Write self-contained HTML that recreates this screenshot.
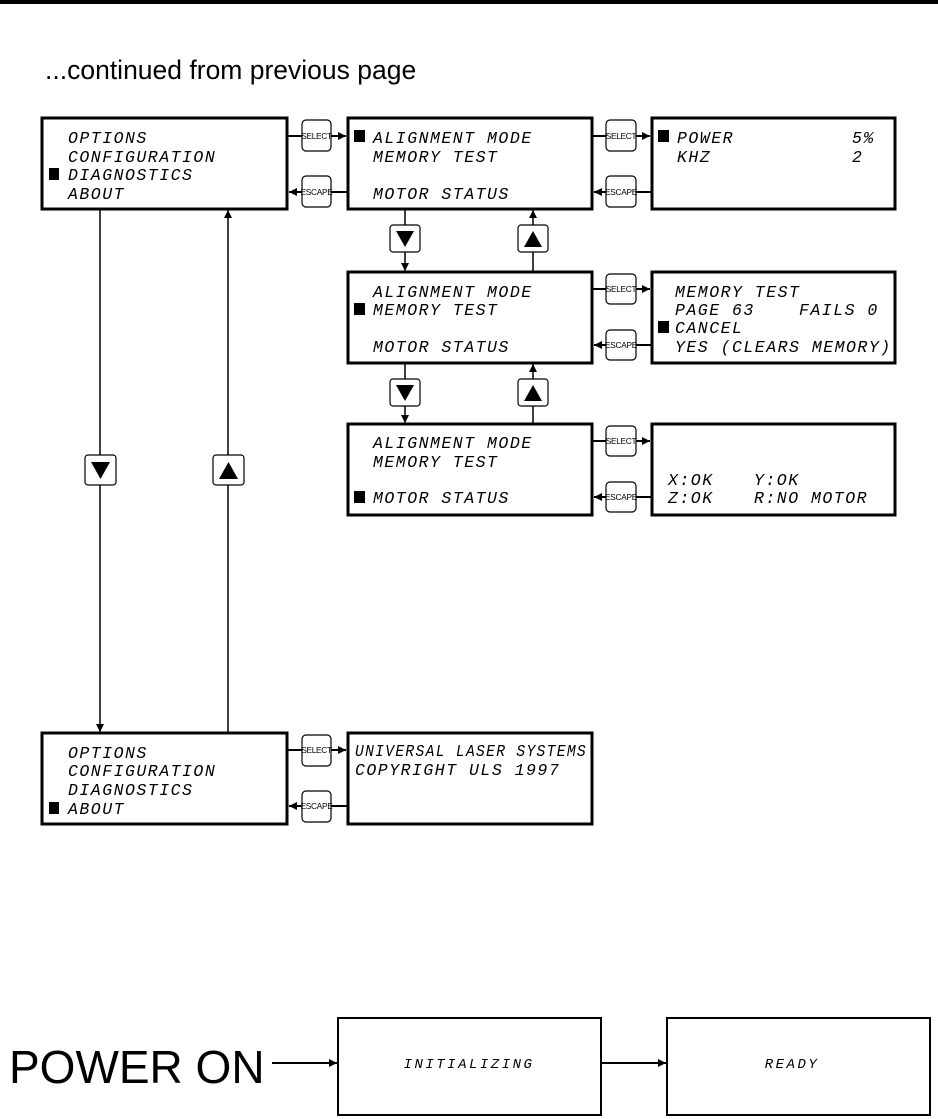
<!DOCTYPE html>
<html><head><meta charset="utf-8"><style>
html,body{margin:0;padding:0;background:#fff;}
svg{display:block;}
.l{font-family:"Liberation Mono",monospace;font-style:italic;font-size:16.5px;letter-spacing:1.5px;fill:#000;}
.b{font-family:"Liberation Sans",sans-serif;font-size:8.3px;fill:#000;letter-spacing:-0.3px;}
</style></head><body>
<svg width="938" height="1119" viewBox="0 0 938 1119" xmlns="http://www.w3.org/2000/svg">
<defs>
<marker id="a" markerWidth="8" markerHeight="8" refX="8" refY="4" orient="auto" markerUnits="userSpaceOnUse"><path d="M0,0 L8,4 L0,8 Z" fill="#000"/></marker>
</defs>
<rect x="0" y="0" width="938" height="4" fill="#000"/>
<text x="45" y="79" font-family="Liberation Sans,sans-serif" font-size="26.5" fill="#000">...continued from previous page</text>

<g fill="none" stroke="#000" stroke-width="3">
<rect x="42" y="118" width="245" height="91"/>
<rect x="348" y="118" width="244" height="91"/>
<rect x="652" y="118" width="243" height="91"/>
<rect x="348" y="272" width="244" height="91"/>
<rect x="652" y="272" width="243" height="91"/>
<rect x="348" y="424" width="244" height="91"/>
<rect x="652" y="424" width="243" height="91"/>
<rect x="42" y="733" width="245" height="91"/>
<rect x="348" y="733" width="244" height="91"/>
</g>
<g fill="none" stroke="#000" stroke-width="2">
<rect x="338" y="1018" width="263" height="97"/>
<rect x="667" y="1018" width="263" height="97"/>
</g>

<g stroke="#000" stroke-width="2">
<line x1="287" y1="136" x2="346" y2="136" marker-end="url(#a)"/>
<line x1="348" y1="192" x2="289" y2="192" marker-end="url(#a)"/>
<line x1="592" y1="136" x2="650" y2="136" marker-end="url(#a)"/>
<line x1="652" y1="192" x2="594" y2="192" marker-end="url(#a)"/>
<line x1="592" y1="289" x2="650" y2="289" marker-end="url(#a)"/>
<line x1="652" y1="345" x2="594" y2="345" marker-end="url(#a)"/>
<line x1="592" y1="441" x2="650" y2="441" marker-end="url(#a)"/>
<line x1="652" y1="497" x2="594" y2="497" marker-end="url(#a)"/>
<line x1="287" y1="750" x2="346" y2="750" marker-end="url(#a)"/>
<line x1="348" y1="806" x2="289" y2="806" marker-end="url(#a)"/>
<line x1="272" y1="1063" x2="337" y2="1063" marker-end="url(#a)"/>
<line x1="601" y1="1063" x2="666" y2="1063" marker-end="url(#a)"/>
</g>
<g stroke="#000" stroke-width="1.5">
<line x1="405" y1="209" x2="405" y2="271" marker-end="url(#a)"/>
<line x1="533" y1="272" x2="533" y2="210" marker-end="url(#a)"/>
<line x1="405" y1="363" x2="405" y2="423" marker-end="url(#a)"/>
<line x1="533" y1="424" x2="533" y2="364" marker-end="url(#a)"/>
<line x1="100" y1="209" x2="100" y2="732" marker-end="url(#a)"/>
<line x1="228" y1="733" x2="228" y2="210" marker-end="url(#a)"/>
</g>

<g fill="#fff" stroke="#000" stroke-width="1.2">
<rect x="302" y="120" width="29" height="31" rx="4"/><rect x="302" y="176" width="29" height="31" rx="4"/>
<rect x="606" y="120" width="30" height="31" rx="4"/><rect x="606" y="176" width="30" height="31" rx="4"/>
<rect x="606" y="274" width="30" height="30" rx="4"/><rect x="606" y="330" width="30" height="30" rx="4"/>
<rect x="606" y="426" width="30" height="30" rx="4"/><rect x="606" y="482" width="30" height="30" rx="4"/>
<rect x="302" y="735" width="29" height="31" rx="4"/><rect x="302" y="791" width="29" height="31" rx="4"/>
<rect x="390" y="225" width="30" height="27" rx="3"/><rect x="518" y="225" width="30" height="27" rx="3"/>
<rect x="390" y="379" width="30" height="27" rx="3"/><rect x="518" y="379" width="30" height="27" rx="3"/>
<rect x="85" y="455" width="31" height="30" rx="3"/><rect x="213" y="455" width="31" height="30" rx="3"/>
</g>
<g fill="#000">
<path d="M396,231 L414,231 L405,247 Z"/><path d="M524,247 L542,247 L533,231 Z"/>
<path d="M396,385 L414,385 L405,401 Z"/><path d="M524,401 L542,401 L533,385 Z"/>
<path d="M91,462 L110,462 L100.5,479 Z"/><path d="M219,479 L238,479 L228.5,462 Z"/>
</g>
<g class="b" text-anchor="middle">
<text x="316.5" y="139">SELECT</text><text x="316.5" y="195">ESCAPE</text>
<text x="621" y="139">SELECT</text><text x="621" y="195">ESCAPE</text>
<text x="621" y="292">SELECT</text><text x="621" y="348">ESCAPE</text>
<text x="621" y="444">SELECT</text><text x="621" y="500">ESCAPE</text>
<text x="316.5" y="753">SELECT</text><text x="316.5" y="809">ESCAPE</text>
</g>

<g fill="#000">
<rect x="49" y="168" width="10" height="12"/>
<rect x="354" y="130" width="11" height="12"/>
<rect x="354" y="303" width="11" height="12"/>
<rect x="354" y="491" width="11" height="12"/>
<rect x="658" y="130" width="11" height="12"/>
<rect x="658" y="321" width="11" height="12"/>
<rect x="49" y="802" width="10" height="12"/>
</g>

<g class="l">
<text x="68" y="143">OPTIONS</text>
<text x="68" y="162">CONFIGURATION</text>
<text x="68" y="180">DIAGNOSTICS</text>
<text x="68" y="199">ABOUT</text>

<text x="373" y="143">ALIGNMENT MODE</text>
<text x="373" y="162">MEMORY TEST</text>
<text x="373" y="199">MOTOR STATUS</text>

<text x="677" y="143">POWER</text><text x="852" y="143">5%</text>
<text x="677" y="162">KHZ</text><text x="852" y="162">2</text>

<text x="373" y="297">ALIGNMENT MODE</text>
<text x="373" y="315">MEMORY TEST</text>
<text x="373" y="352">MOTOR STATUS</text>

<text x="675" y="297">MEMORY TEST</text>
<text x="675" y="315">PAGE 63</text><text x="799" y="315">FAILS 0</text>
<text x="675" y="333">CANCEL</text>
<text x="675" y="352">YES (CLEARS MEMORY)</text>

<text x="373" y="448">ALIGNMENT MODE</text>
<text x="373" y="467">MEMORY TEST</text>
<text x="373" y="503">MOTOR STATUS</text>

<text x="668" y="485">X:OK</text><text x="754" y="485">Y:OK</text>
<text x="668" y="503">Z:OK</text><text x="754" y="503">R:NO MOTOR</text>

<text x="68" y="758">OPTIONS</text>
<text x="68" y="776">CONFIGURATION</text>
<text x="68" y="795">DIAGNOSTICS</text>
<text x="68" y="814">ABOUT</text>

<text x="355" y="756" textLength="232" lengthAdjust="spacingAndGlyphs">UNIVERSAL LASER SYSTEMS</text>
<text x="355" y="775">COPYRIGHT ULS 1997</text>
</g>
<g class="l" style="font-size:14px;letter-spacing:2.5px">
<text x="469" y="1068" text-anchor="middle">INITIALIZING</text>
<text x="792" y="1068" text-anchor="middle">READY</text>
</g>
<text x="9" y="1083" font-family="Liberation Sans,sans-serif" font-size="46" fill="#000">POWER ON</text>
</svg>
</body></html>
